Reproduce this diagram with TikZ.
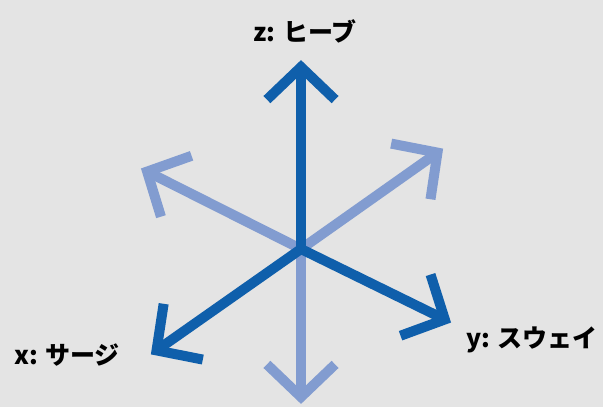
\documentclass[tikz,border=0pt]{standalone}
\usepackage{fontspec}
\setmainfont{Noto Sans CJK JP}
\usetikzlibrary{calc}
\definecolor{bg}{HTML}{E4E4E4}
\definecolor{darkax}{HTML}{0F5FAB}
\definecolor{lightax}{HTML}{829CD0}
\tikzset{
  axis/.style={line width=10pt, line join=miter, line cap=butt},
  lbl/.style={font=\fontsize{25}{29}\selectfont\bfseries, text=black, inner sep=0pt},
}
\newcommand{\axisarrow}[3]{%
  \draw[axis,#3] (o) -- ($(#1)!8pt!(o)$);
  \draw[axis,#3] ($(#1)!53pt!40:(o)$) -- ($(#1)!8pt!(o)$) -- ($(#1)!53pt!-40:(o)$);
}
\begin{document}
\begin{tikzpicture}[x=1pt,y=-1pt]
\fill[bg] (0,0) rectangle (603,407);
\useasboundingbox (0,0) rectangle (603,407);
\coordinate (o) at (301,249);
\coordinate (ul) at (140,168);
\coordinate (ur) at (444,148);
\coordinate (dn) at (301,405);
\coordinate (up) at (301,59);
\coordinate (dl) at (150,355);
\coordinate (dr) at (452,323);
\axisarrow{ul}{}{lightax}
\axisarrow{ur}{}{lightax}
\axisarrow{dn}{}{lightax}
\axisarrow{up}{}{darkax}
\axisarrow{dl}{}{darkax}
\axisarrow{dr}{}{darkax}
\node[lbl] (zl) at (305,31) {z: ヒーブ};
\node[lbl] (xl) at (67,355) {x: サージ};
\node[lbl] (yl) at (532,340) {y: スウェイ};
\end{tikzpicture}
\end{document}
